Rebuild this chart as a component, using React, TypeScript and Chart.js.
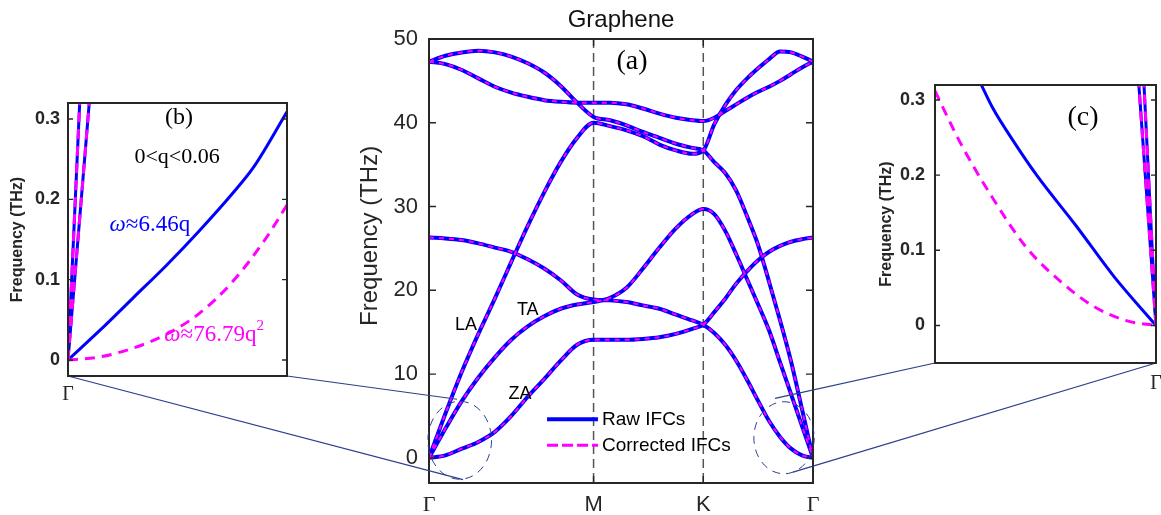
import React, { useEffect, useRef } from "react";
import { Chart, registerables } from "chart.js";

Chart.register(...registerables);

const W = 1161;
const H = 515;

// ---------------- panel (a): Γ–M–K–Γ dispersion ----------------
const pathQ = [0, 0.15, 0.3, 0.45, 0.6, 0.75, 0.9, 1.05, 1.2, 1.35, 1.5, 1.65, 1.8, 1.95, 2.1, 2.25, 2.4, 2.5, 2.6, 2.7, 2.8, 2.9, 3.0, 3.1, 3.2, 3.3, 3.4, 3.5];
const bandZA = [0, 0.3, 1.1, 1.9, 3.1, 5.0, 7.3, 9.4, 11.6, 13.5, 14.1, 14.1, 14.1, 14.2, 14.4, 14.8, 15.4, 15.9, 17.4, 19.0, 20.8, 22.3, 23.6, 24.6, 25.3, 25.8, 26.1, 26.3];
const bandZO = [26.3, 26.2, 26.0, 25.6, 25.1, 24.6, 23.7, 22.6, 21.2, 19.5, 18.9, 18.8, 18.6, 18.2, 17.8, 17.1, 16.4, 15.9, 14.9, 13.5, 11.6, 9.3, 6.8, 4.4, 2.5, 1.1, 0.3, 0];
const bandTA = [0, 3.5, 6.8, 9.6, 12.0, 14.1, 15.7, 16.9, 17.8, 18.3, 18.6, 19.1, 20.3, 22.6, 25.1, 27.4, 29.1, 29.7, 29.1, 27.1, 24.3, 21.3, 18.3, 15.2, 11.4, 7.6, 3.8, 0];
const bandLA = [0, 5.3, 10.3, 14.8, 19.0, 23.4, 27.7, 31.7, 35.3, 38.2, 40.0, 39.6, 39.1, 38.4, 37.4, 36.7, 36.3, 36.7, 39.8, 42.1, 43.9, 45.3, 46.5, 47.6, 48.5, 48.4, 47.9, 47.3];
const bandLO = [47.3, 48.0, 48.4, 48.6, 48.4, 47.9, 47.1, 46.0, 44.4, 42.4, 40.7, 40.3, 39.7, 38.9, 38.2, 37.5, 37.0, 36.7, 35.3, 34.0, 31.9, 28.8, 25.4, 21.0, 16.4, 11.5, 5.8, 0];
const bandTO = [47.3, 47.0, 46.3, 45.3, 44.3, 43.6, 43.1, 42.7, 42.5, 42.4, 42.4, 42.4, 42.2, 41.7, 41.1, 40.6, 40.3, 40.2, 40.6, 41.4, 42.2, 43.0, 43.7, 44.3, 45.0, 45.8, 46.6, 47.3];
const mainBands = [bandZA, bandZO, bandTA, bandLA, bandLO, bandTO];
const freqTicks = [0, 10, 20, 30, 40, 50];
const freqTickLabels = ["0", "10", "20", "30", "40", "50"];
const symPoints = [0, 1.5, 2.5, 3.5];
const symLabels = ["Γ", "M", "K", "Γ"];
const symDividers = [1.5, 2.5];
const branchNames = ["LA", "TA", "ZA"];
const legendNames = ["Raw IFCs", "Corrected IFCs"];

// ---------------- inset (b): near Γ, 0<q<0.06 ----------------
const insetBRawQ = [0, 0.15, 0.3, 0.45, 0.6, 0.75, 0.85, 1.0];
const insetBRawZA = [0, 0.038, 0.078, 0.118, 0.161, 0.207, 0.241, 0.309];
const insetBCorrQ = [0, 0.15, 0.3, 0.45, 0.6, 0.75, 0.9, 1.0];
const insetBCorrZA = [0, 0.004, 0.015, 0.032, 0.058, 0.097, 0.15, 0.193];
const insetBLAQ = [0, 0.055];
const insetBLA = [0, 0.33];
const insetBTAQ = [0, 0.1];
const insetBTA = [0, 0.33];

// ---------------- inset (c): approaching Γ from K ----------------
const insetCRawQ = [0.2, 0.26, 0.36, 0.46, 0.64, 0.81, 1.0];
const insetCRawZA = [0.326, 0.29, 0.243, 0.2, 0.132, 0.065, 0];
const insetCCorrQ = [0, 0.113, 0.26, 0.41, 0.57, 0.72, 0.87, 1.0];
const insetCCorrZA = [0.312, 0.244, 0.17, 0.105, 0.058, 0.025, 0.006, 0];
const insetCLAQ = [0.92, 1.0];
const insetCLA = [0.33, 0];
const insetCTAQ = [0.944, 1.0];
const insetCTA = [0.33, 0];
const insetTicks = [0, 0.1, 0.2, 0.3];
const insetTickLabels = ["0", "0.1", "0.2", "0.3"];

// ---------------- styles ----------------
const SANS = "'Liberation Sans', Arial, Helvetica, sans-serif";
const SERIF = "'Liberation Serif', 'Times New Roman', Times, serif";
const BLUE = "#0000FF";
const MAGENTA = "#FF00FF";
const AXIS = "#262626";
const LINK = "#2B3F8E";

const pts = (xs: number[], ys: number[]) => xs.map((x, i) => ({ x, y: ys[i] }));

function lineDs(data: any[], color: string, width: number, dash: number[], order: number) {
  return {
    data,
    order,
    borderColor: color,
    backgroundColor: color,
    borderWidth: width,
    borderDash: dash,
    pointRadius: 0,
    fill: false,
    cubicInterpolationMode: "monotone",
    borderCapStyle: "butt",
  };
}

function txt(ctx: CanvasRenderingContext2D, s: string, x: number, y: number, font: string, color: string, align: CanvasTextAlign = "center") {
  ctx.save();
  ctx.font = font;
  ctx.fillStyle = color;
  ctx.textAlign = align;
  ctx.textBaseline = "middle";
  ctx.fillText(s, x, y);
  ctx.restore();
}

function omegaText(ctx: CanvasRenderingContext2D, cx: number, cy: number, rest: string, sup: string, color: string, size: number) {
  const fi = `italic ${size}px ${SERIF}`;
  const fn = `${size}px ${SERIF}`;
  const fs = `${Math.round(size * 0.65)}px ${SERIF}`;
  ctx.save();
  ctx.fillStyle = color;
  ctx.textBaseline = "middle";
  ctx.textAlign = "left";
  ctx.font = fi;
  const w1 = ctx.measureText("ω").width;
  ctx.font = fn;
  const w2 = ctx.measureText(rest).width;
  ctx.font = fs;
  const w3 = sup ? ctx.measureText(sup).width : 0;
  let x = cx - (w1 + w2 + w3) / 2;
  ctx.font = fi;
  ctx.fillText("ω", x, cy);
  x += w1;
  ctx.font = fn;
  ctx.fillText(rest, x, cy);
  x += w2;
  if (sup) {
    ctx.font = fs;
    ctx.fillText(sup, x, cy - size * 0.38);
  }
  ctx.restore();
}

function drawFrame(chart: any, yTicks: number[], xTicks: number[], len: number, lw: number) {
  const { ctx, chartArea: a, scales } = chart;
  const x = scales.x;
  const y = scales.y;
  ctx.save();
  ctx.setLineDash([]);
  ctx.strokeStyle = AXIS;
  ctx.lineWidth = 1.4;
  ctx.beginPath();
  for (const v of yTicks) {
    const p = y.getPixelForValue(v);
    ctx.moveTo(a.left, p);
    ctx.lineTo(a.left + len, p);
    ctx.moveTo(a.right, p);
    ctx.lineTo(a.right - len, p);
  }
  for (const v of xTicks) {
    const p = x.getPixelForValue(v);
    ctx.moveTo(p, a.bottom);
    ctx.lineTo(p, a.bottom - len);
    ctx.moveTo(p, a.top);
    ctx.lineTo(p, a.top + len);
  }
  ctx.stroke();
  ctx.lineWidth = lw;
  ctx.strokeRect(a.left, a.top, a.right - a.left, a.bottom - a.top);
  ctx.restore();
}

function seg(ctx: CanvasRenderingContext2D, x1: number, y1: number, x2: number, y2: number) {
  ctx.beginPath();
  ctx.moveTo(x1, y1);
  ctx.lineTo(x2, y2);
  ctx.stroke();
}

function mainDecor(getInsets: () => { b: any; c: any }) {
  return {
    id: "mainDecor",
    beforeDatasetsDraw(chart: any) {
      const { ctx, chartArea: a, scales } = chart;
      ctx.save();
      ctx.strokeStyle = "#555555";
      ctx.lineWidth = 1.5;
      ctx.setLineDash([9, 5]);
      for (const v of symDividers) {
        const p = scales.x.getPixelForValue(v);
        seg(ctx, p, a.top, p, a.bottom);
      }
      ctx.restore();
    },
    afterDraw(chart: any) {
      const { ctx, chartArea: a, scales } = chart;
      const x = scales.x;
      const y = scales.y;
      drawFrame(chart, freqTicks, symDividers, 7, 2);

      // title and axis title
      txt(ctx, "Graphene", (a.left + a.right) / 2, 20, `24px ${SANS}`, "#111");
      ctx.save();
      ctx.translate(a.left - 59, y.getPixelForValue(26.5));
      ctx.rotate(-Math.PI / 2);
      txt(ctx, "Frequency (THz)", 0, 0, `24px ${SANS}`, AXIS);
      ctx.restore();

      // annotations
      txt(ctx, "(a)", x.getPixelForValue(1.85), y.getPixelForValue(47.3), `28px ${SERIF}`, "#000");
      const labQ = [0.337, 0.9, 0.83];
      const labF = [15.8, 17.6, 7.6];
      branchNames.forEach((n, i) => txt(ctx, n, x.getPixelForValue(labQ[i]), y.getPixelForValue(labF[i]), `18px ${SANS}`, "#000"));

      // legend
      const lx1 = x.getPixelForValue(1.076);
      const lx2 = x.getPixelForValue(1.54);
      const ly1 = y.getPixelForValue(4.6);
      const ly2 = y.getPixelForValue(1.5);
      ctx.save();
      ctx.strokeStyle = BLUE;
      ctx.lineWidth = 4;
      seg(ctx, lx1, ly1, lx2, ly1);
      ctx.strokeStyle = MAGENTA;
      ctx.lineWidth = 3;
      ctx.setLineDash([11, 4]);
      seg(ctx, lx1, ly2, lx2, ly2);
      ctx.restore();
      txt(ctx, legendNames[0], lx2 + 4, ly1, `19px ${SANS}`, "#000", "left");
      txt(ctx, legendNames[1], lx2 + 4, ly2, `19px ${SANS}`, "#000", "left");

      // zoom connectors and circles
      const { b, c } = getInsets();
      ctx.save();
      ctx.strokeStyle = LINK;
      ctx.lineWidth = 1.2;
      if (b && b.chartArea) {
        const ba = b.chartArea;
        seg(ctx, ba.right, ba.bottom, x.getPixelForValue(0.255), y.getPixelForValue(7.0));
        seg(ctx, ba.left, ba.bottom, x.getPixelForValue(0.31), y.getPixelForValue(-2.6));
      }
      if (c && c.chartArea) {
        const ca = c.chartArea;
        seg(ctx, ca.left, ca.bottom, x.getPixelForValue(3.154), y.getPixelForValue(7.1));
        seg(ctx, ca.right, ca.bottom, x.getPixelForValue(3.318), y.getPixelForValue(-1.7));
      }
      ctx.lineWidth = 1;
      ctx.setLineDash([8, 6]);
      const circ = (q: number, f: number, dq: number, df: number) => {
        const cx = x.getPixelForValue(q);
        const cy = y.getPixelForValue(f);
        const rx = Math.abs(x.getPixelForValue(q + dq) - cx);
        const ry = Math.abs(y.getPixelForValue(f + df) - cy);
        ctx.beginPath();
        ctx.ellipse(cx, cy, rx, ry, 0, 0, Math.PI * 2);
        ctx.stroke();
      };
      circ(0.28, 2.1, 0.29, 4.65);
      circ(3.236, 2.4, 0.275, 4.3);
      ctx.restore();
    },
  };
}

function mainConfig(getInsets: () => { b: any; c: any }): any {
  const datasets: any[] = [];
  // higher order is drawn first: blue raw lines underneath, magenta corrected on top
  mainBands.forEach((band) => datasets.push(lineDs(pts(pathQ, band), BLUE, 4, [], 2)));
  mainBands.forEach((band) => datasets.push(lineDs(pts(pathQ, band), MAGENTA, 2, [5, 5], 1)));
  return {
    type: "line",
    data: { datasets },
    options: {
      animation: false,
      responsive: false,
      events: [],
      layout: { padding: { left: 340, right: 348, top: 39, bottom: 0 } },
      plugins: { legend: { display: false }, tooltip: { enabled: false }, title: { display: false } },
      scales: {
        x: {
          type: "linear",
          min: 0,
          max: 3.5,
          grid: { display: false, drawTicks: false },
          border: { display: false },
          afterBuildTicks: (s: any) => {
            s.ticks = symPoints.map((v) => ({ value: v }));
          },
          afterFit: (s: any) => {
            s.height = 32;
            s.paddingLeft = 0;
            s.paddingRight = 0;
          },
          ticks: {
            padding: 9,
            maxRotation: 0,
            autoSkip: false,
            color: AXIS,
            font: (ctx: any) => ({ family: symLabels[ctx.index] === "Γ" ? SERIF : SANS, size: 22 }),
            callback: (_v: any, i: number) => symLabels[i],
          },
        },
        y: {
          type: "linear",
          min: -3,
          max: 50,
          grid: { display: false, drawTicks: false },
          border: { display: false },
          afterBuildTicks: (s: any) => {
            s.ticks = freqTicks.map((v) => ({ value: v }));
          },
          afterFit: (s: any) => {
            s.width = 89;
            s.paddingTop = 0;
            s.paddingBottom = 0;
          },
          ticks: {
            padding: 11,
            color: AXIS,
            font: { family: SANS, size: 22 },
            callback: (_v: any, i: number) => freqTickLabels[i],
          },
        },
      },
    },
    plugins: [mainDecor(getInsets)],
  };
}

function insetConfig(kind: "b" | "c"): any {
  const isB = kind === "b";
  const D = [10, 7];
  const datasets = isB
    ? [
        lineDs(pts(insetBLAQ, insetBLA), BLUE, 3, [], 2),
        lineDs(pts(insetBTAQ, insetBTA), BLUE, 3, [], 2),
        lineDs(pts(insetBRawQ, insetBRawZA), BLUE, 3, [], 2),
        lineDs(pts(insetBLAQ, insetBLA), MAGENTA, 3, D, 1),
        lineDs(pts(insetBTAQ, insetBTA), MAGENTA, 3, D, 1),
        lineDs(pts(insetBCorrQ, insetBCorrZA), MAGENTA, 3, D, 1),
      ]
    : [
        lineDs(pts(insetCLAQ, insetCLA), BLUE, 3, [], 2),
        lineDs(pts(insetCTAQ, insetCTA), BLUE, 3, [], 2),
        lineDs(pts(insetCRawQ, insetCRawZA), BLUE, 3, [], 2),
        lineDs(pts(insetCLAQ, insetCLA), MAGENTA, 3, D, 1),
        lineDs(pts(insetCTAQ, insetCTA), MAGENTA, 3, D, 1),
        lineDs(pts(insetCCorrQ, insetCCorrZA), MAGENTA, 3, D, 1),
      ];
  const gammaAt = isB ? 0 : 1;
  const decor = {
    id: "insetDecor" + kind,
    afterDraw(chart: any) {
      const { ctx, scales } = chart;
      const x = scales.x;
      const y = scales.y;
      drawFrame(chart, insetTicks, [], 5, 2);
      if (isB) {
        txt(ctx, "(b)", x.getPixelForValue(0.507), y.getPixelForValue(0.302), `24px ${SERIF}`, "#000");
        txt(ctx, "0<q<0.06", x.getPixelForValue(0.498), y.getPixelForValue(0.252), `22px ${SERIF}`, "#000");
        omegaText(ctx, x.getPixelForValue(0.374), y.getPixelForValue(0.168), "≈6.46q", "", BLUE, 23);
        omegaText(ctx, x.getPixelForValue(0.667), y.getPixelForValue(0.031), "≈76.79q", "2", MAGENTA, 23);
      } else {
        txt(ctx, "(c)", x.getPixelForValue(0.67), y.getPixelForValue(0.277), `28px ${SERIF}`, "#000");
      }
    },
  };
  return {
    type: "line",
    data: { datasets },
    options: {
      animation: false,
      responsive: false,
      events: [],
      layout: { padding: isB ? { left: 0, right: 874, top: 103, bottom: 0 } : { left: 860, right: 5, top: 85, bottom: 0 } },
      plugins: { legend: { display: false }, tooltip: { enabled: false }, title: { display: false } },
      scales: {
        x: {
          type: "linear",
          min: 0,
          max: 1,
          grid: { display: false, drawTicks: false },
          border: { display: false },
          afterBuildTicks: (s: any) => {
            s.ticks = [{ value: gammaAt }];
          },
          afterFit: (s: any) => {
            s.height = isB ? 139 : 152;
            s.paddingLeft = 0;
            s.paddingRight = 0;
          },
          ticks: {
            padding: isB ? 7 : 9,
            maxRotation: 0,
            autoSkip: false,
            color: AXIS,
            font: { family: SERIF, size: 20 },
            callback: () => "Γ",
          },
        },
        y: {
          type: "linear",
          min: isB ? -0.02 : -0.05,
          max: 0.32,
          grid: { display: false, drawTicks: false },
          border: { display: false },
          afterBuildTicks: (s: any) => {
            s.ticks = insetTicks.map((v) => ({ value: v }));
          },
          afterFit: (s: any) => {
            s.width = isB ? 68 : 75;
            s.paddingTop = 0;
            s.paddingBottom = 0;
          },
          ticks: {
            padding: isB ? 8 : 10,
            color: AXIS,
            font: { family: SANS, size: 18, weight: "bold" },
            callback: (_v: any, i: number) => insetTickLabels[i],
          },
          title: {
            display: true,
            text: "Frequency (THz)",
            color: AXIS,
            font: { family: SANS, size: 16, weight: "bold" },
            padding: { top: isB ? 8 : 17, bottom: 0 },
          },
        },
      },
    },
    plugins: [decor],
  };
}

export default function App() {
  const mainRef = useRef<HTMLCanvasElement>(null);
  const bRef = useRef<HTMLCanvasElement>(null);
  const cRef = useRef<HTMLCanvasElement>(null);

  useEffect(() => {
    const b = new Chart(bRef.current as HTMLCanvasElement, insetConfig("b"));
    const c = new Chart(cRef.current as HTMLCanvasElement, insetConfig("c"));
    const m = new Chart(mainRef.current as HTMLCanvasElement, mainConfig(() => ({ b, c })));
    return () => {
      m.destroy();
      b.destroy();
      c.destroy();
    };
  }, []);

  const cs: React.CSSProperties = { position: "absolute", left: 0, top: 0, width: W, height: H };
  return (
    <div style={{ position: "fixed", left: 0, top: 0, width: W, height: H, background: "#ffffff", overflow: "hidden" }}>
      <canvas ref={mainRef} width={W} height={H} style={cs} />
      <canvas ref={bRef} width={W} height={H} style={cs} />
      <canvas ref={cRef} width={W} height={H} style={cs} />
    </div>
  );
}
